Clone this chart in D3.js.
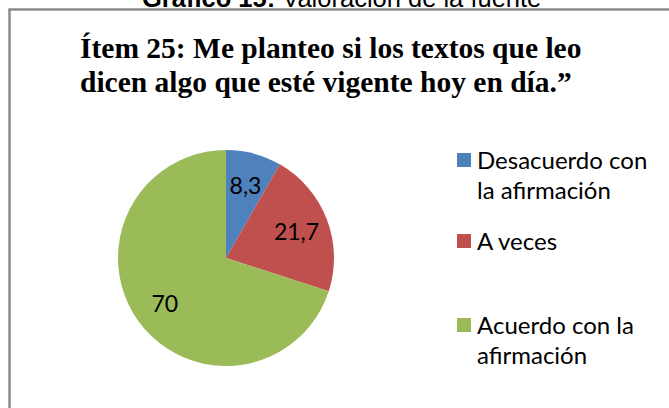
<!DOCTYPE html>
<html>
<head>
<meta charset="utf-8">
<script src="https://cdn.jsdelivr.net/npm/d3@7"></script>
<style>
  body { margin: 0; background: #fff; }
  svg { display: block; }
</style>
</head>
<body>
<div id="chart"></div>
<script>
// Data
const categories = ["Desacuerdo con la afirmación", "A veces", "Acuerdo con la afirmación"];
const values = [8.3, 21.7, 70];
const valueLabels = ["8,3", "21,7", "70"];
const legendLines = [["Desacuerdo con", "la afirmación"], ["A veces"], ["Acuerdo con la", "afirmación"]];
const colors = ["#4F81BD", "#C0504D", "#9BBB59"];
const titleLines = ["Ítem 25: Me planteo si los textos que leo", "dicen algo que esté vigente hoy en día.”"];

const width = 669, height = 408;
const svg = d3.select("#chart")
  .append("svg")
  .attr("width", width)
  .attr("height", height);

// caption above the frame (cut off at the top, as in the source)
const cap = svg.append("text")
  .attr("x", 142)
  .attr("y", 7)
  .style("font-family", "'Liberation Sans', Arial, sans-serif")
  .style("font-size", "25.5px")
  .attr("fill", "#000");
cap.append("tspan").style("font-weight", "bold").text("Gráfico 15: ");
cap.append("tspan").text("Valoración de la fuente");

// chart frame
svg.append("rect")
  .attr("x", 9.5)
  .attr("y", 9.5)
  .attr("width", 700)
  .attr("height", 450)
  .attr("fill", "none")
  .attr("stroke", "#8a8a8a")
  .attr("stroke-width", 2.5);

// title
svg.selectAll(".title")
  .data(titleLines)
  .enter()
  .append("text")
  .attr("class", "title")
  .attr("x", 80)
  .attr("y", (d, i) => 58 + i * 34)
  .style("font-family", "'Liberation Serif', 'Times New Roman', serif")
  .style("font-weight", "bold")
  .style("font-size", "29.5px")
  .text(d => d);

// pie
const cx = 226, cy = 258, r = 108;
const pie = d3.pie().sort(null).value(d => d);
const arcs = pie(values);
const arc = d3.arc().innerRadius(0).outerRadius(r);
const labelArc = d3.arc().innerRadius(r * 0.7).outerRadius(r * 0.7);

const g = svg.append("g").attr("transform", `translate(${cx},${cy})`);

g.selectAll("path")
  .data(arcs)
  .enter()
  .append("path")
  .attr("d", arc)
  .attr("fill", (d, i) => colors[i]);

g.selectAll(".lbl")
  .data(arcs)
  .enter()
  .append("text")
  .attr("class", "lbl")
  .attr("transform", d => `translate(${labelArc.centroid(d)})`)
  .attr("text-anchor", "middle")
  .attr("dy", "0.4em")
  .style("font-family", "Lato, 'Open Sans', sans-serif")
  .style("font-size", "23px")
  .attr("fill", "#000")
  .text((d, i) => valueLabels[i]);

// legend
const legendY = [160, 241, 325];
const legend = svg.append("g");

categories.forEach((c, i) => {
  const item = legend.append("g").attr("transform", `translate(457,${legendY[i]})`);
  item.append("rect")
    .attr("x", 0)
    .attr("y", -7)
    .attr("width", 14)
    .attr("height", 14)
    .attr("fill", colors[i]);
  item.selectAll("text")
    .data(legendLines[i])
    .enter()
    .append("text")
    .attr("x", 20)
    .attr("y", (d, j) => 9 + j * 30)
    .style("font-family", "Lato, 'Open Sans', sans-serif")
    .style("font-size", "24px")
    .attr("fill", "#000")
    .text(d => d);
});
</script>
</body>
</html>
